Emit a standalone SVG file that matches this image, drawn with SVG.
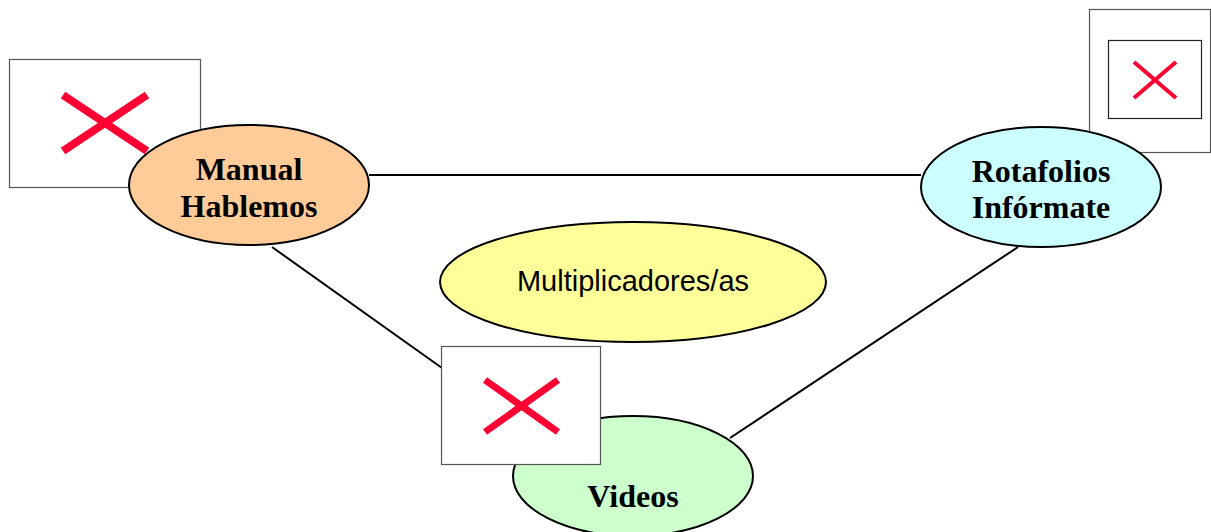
<svg xmlns="http://www.w3.org/2000/svg" width="1211" height="532" viewBox="0 0 1211 532">
  <style>
    .edge { stroke: #000; stroke-width: 2; fill: none; }
    .node { stroke: #000; stroke-width: 2; }
    .label { font-family: "Liberation Serif", "Times New Roman", serif; font-weight: bold; font-size: 32px; text-anchor: middle; fill: #000; }
    .plain { font-family: "Liberation Sans", Arial, sans-serif; font-size: 29px; text-anchor: middle; fill: #000; }
    .frame { fill: #fff; stroke: #555; stroke-width: 1.2; }
    .inner { fill: #fff; stroke: #222; stroke-width: 1.2; }
    .cross { stroke: #FF0033; stroke-linecap: butt; }
  </style>

  <!-- connectors -->
  <g id="connectors">
    <line class="edge" x1="369" y1="175" x2="921" y2="175"/>
    <line class="edge" x1="272" y1="247" x2="442" y2="368"/>
    <line class="edge" x1="1018" y1="247" x2="730" y2="438"/>
  </g>

  <!-- placeholder picture, top left -->
  <g id="picture-manual">
    <rect class="frame" x="9.5" y="59.5" width="191" height="128"/>
    <line class="cross" x1="63" y1="95" x2="147" y2="151" stroke-width="8"/>
    <line class="cross" x1="147" y1="95" x2="63" y2="151" stroke-width="8"/>
  </g>

  <g id="node-manual">
    <ellipse class="node" cx="249" cy="185" rx="120" ry="60" fill="#FFCC99"/>
    <text class="label" x="249" y="180">Manual</text>
    <text class="label" x="249" y="217">Hablemos</text>
  </g>

  <!-- placeholder picture, top right -->
  <g id="picture-rotafolios">
    <rect class="frame" x="1089.5" y="9.5" width="121" height="143"/>
    <rect class="inner" x="1108.5" y="40.5" width="93" height="78"/>
    <line class="cross" x1="1134" y1="62" x2="1176" y2="98" stroke-width="4"/>
    <line class="cross" x1="1176" y1="62" x2="1134" y2="98" stroke-width="4"/>
  </g>

  <g id="node-rotafolios">
    <ellipse class="node" cx="1041" cy="187" rx="120" ry="60" fill="#CCFFFF"/>
    <text class="label" x="1041" y="182">Rotafolios</text>
    <text class="label" x="1041" y="218">Infórmate</text>
  </g>

  <g id="node-multiplicadores">
    <ellipse class="node" cx="633" cy="282" rx="193" ry="60" fill="#FFFF99"/>
    <text class="plain" x="633" y="291">Multiplicadores/as</text>
  </g>

  <g id="node-videos">
    <ellipse class="node" cx="633" cy="476" rx="120" ry="60" fill="#CCFFCC"/>
    <text class="label" x="633" y="507">Videos</text>
  </g>

  <!-- placeholder picture, bottom -->
  <g id="picture-videos">
    <rect class="frame" x="441.5" y="346.5" width="159" height="118"/>
    <line class="cross" x1="485" y1="380" x2="558" y2="432" stroke-width="7"/>
    <line class="cross" x1="558" y1="380" x2="485" y2="432" stroke-width="7"/>
  </g>
</svg>
